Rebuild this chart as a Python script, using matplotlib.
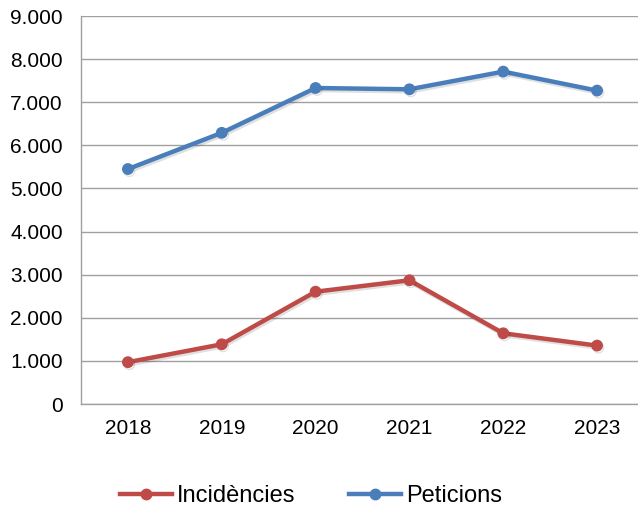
import matplotlib.pyplot as plt
import matplotlib.patheffects as pe
from matplotlib.ticker import FuncFormatter

plt.rcParams['font.family'] = ['Liberation Sans', 'DejaVu Sans']

years = ['2018', '2019', '2020', '2021', '2022', '2023']
incidencies = [970, 1385, 2605, 2870, 1640, 1355]
peticions = [5450, 6290, 7330, 7300, 7710, 7270]

red = '#be4b48'
blue = '#4a7ebb'

fig = plt.figure(figsize=(6.38, 5.11), dpi=100)
ax = fig.add_axes([81 / 638, 1 - 404 / 511, (644 - 81) / 638, (404 - 16) / 511])

shadow = [pe.SimpleLineShadow(offset=(1, -1.5), shadow_color='black', alpha=0.12), pe.Normal()]
x = range(len(years))
l1, = ax.plot(x, incidencies, color=red, lw=3.2, marker='o', ms=7.5, label='Incidències',
              path_effects=shadow, zorder=3)
l2, = ax.plot(x, peticions, color=blue, lw=3.2, marker='o', ms=7.5, label='Peticions',
              path_effects=shadow, zorder=3)

ax.set_xlim(-0.5, 5.5)
ax.set_ylim(0, 9000)
ax.set_xticks(list(x))
ax.set_xticklabels(years)
ax.set_yticks(range(0, 9001, 1000))
ax.yaxis.set_major_formatter(FuncFormatter(lambda v, p: f'{int(v):,}'.replace(',', '.')))
ax.tick_params(axis='both', length=0, labelsize=15, colors='black')
ax.tick_params(axis='y', pad=13)
ax.tick_params(axis='x', pad=11)

ax.grid(axis='y', color='#a0a0a0', lw=1)
ax.set_axisbelow(True)
for s in ['top', 'right']:
    ax.spines[s].set_visible(False)
for s in ['left', 'bottom']:
    ax.spines[s].set_color('#a0a0a0')
    ax.spines[s].set_linewidth(1)

leg = fig.legend(loc='center', bbox_to_anchor=(311 / 638, 1 - 496 / 511), ncol=2, frameon=False,
                 fontsize=17, handlelength=2.2, handletextpad=0.2, columnspacing=2.3)
for h in leg.legend_handles:
    h.set_path_effects([])

fig.savefig('out.png', dpi=100)
